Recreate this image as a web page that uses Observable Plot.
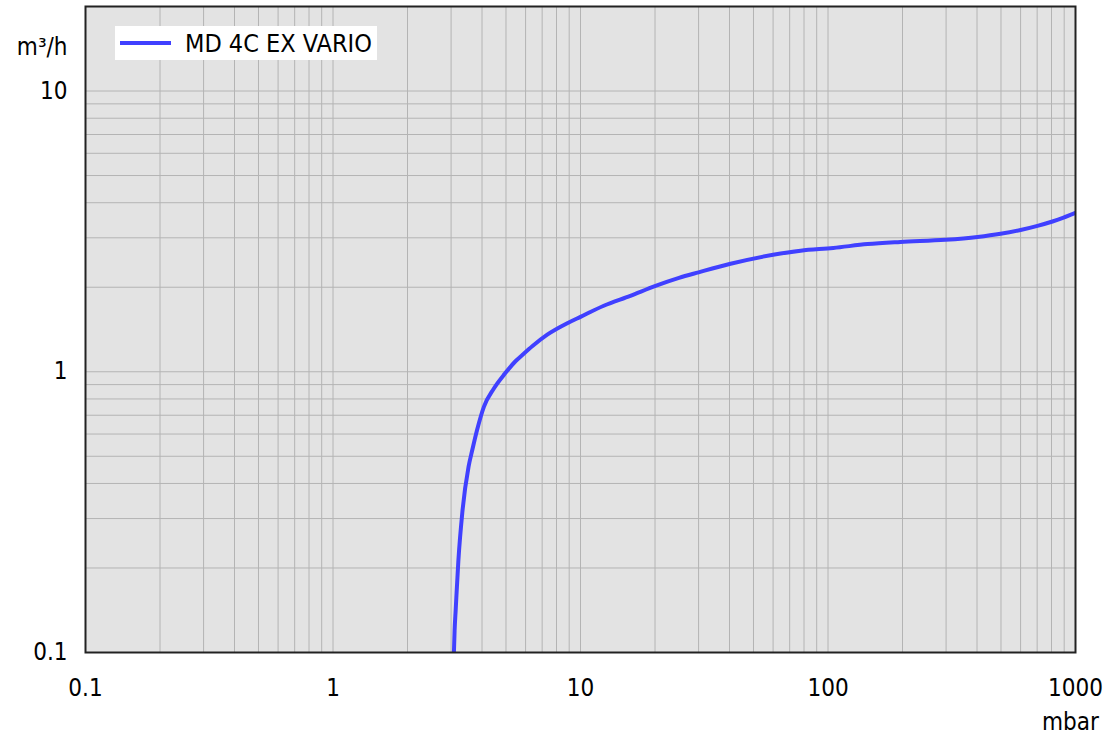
<!DOCTYPE html>
<html>
<head>
<meta charset="utf-8">
<script src="https://cdn.jsdelivr.net/npm/d3@7"></script>
<script src="https://cdn.jsdelivr.net/npm/@observablehq/plot@0.6"></script>
<style>
  body { margin: 0; background: #fff; }
  svg { display: block; }
</style>
</head>
<body>
<div id="chart"></div>
<script>
// Pressure (mbar) and pumping speed (m³/h)
const pressure = [3.08, 3.10, 3.13, 3.21, 3.33, 3.53, 3.65, 3.82, 4.07, 4.46, 4.95, 5.46, 5.90, 6.40, 7.34, 8.97, 10, 12.42, 15.9, 20.1, 25, 30, 40, 60, 77.5, 105, 144.5, 196, 298, 402, 498, 600, 702, 807, 895, 1000];
const speed    = [0.1, 0.12, 0.141, 0.212, 0.315, 0.459, 0.524, 0.62, 0.75, 0.87, 0.985, 1.09, 1.16, 1.235, 1.355, 1.498, 1.569, 1.718, 1.864, 2.023, 2.16, 2.26, 2.42, 2.61, 2.70, 2.76, 2.85, 2.90, 2.95, 3.02, 3.10, 3.20, 3.31, 3.43, 3.54, 3.68];

const seriesName = "MD 4C EX VARIO";
const xTicks = [0.1, 1, 10, 100, 1000];
const yTicks = [0.1, 1, 10];
const xGrid = [0.2,0.3,0.4,0.5,0.6,0.7,0.8,0.9,1,2,3,4,5,6,7,8,9,10,20,30,40,50,60,70,80,90,100,200,300,400,500,600,700,800,900];
const yGrid = [0.2,0.3,0.4,0.5,0.6,0.7,0.8,0.9,1,2,3,4,5,6,7,8,9,10];
const xUnit = "mbar";
const yUnit = "m³/h";

const data = pressure.map((p, i) => ({p, s: speed[i]}));

const font = "'DejaVu Sans Condensed', 'DejaVu Sans', sans-serif";
const gridColor = "#b4b4b4";
const lineColor = "#4040ff";

const chart = Plot.plot({
  width: 1109,
  height: 737,
  marginLeft: 85,
  marginRight: 34,
  marginTop: 6,
  marginBottom: 85,
  style: {fontFamily: font, fontSize: "24px", color: "#000", background: "#fff", overflow: "visible"},
  x: {type: "log", domain: [0.1, 1000]},
  y: {type: "log", domain: [0.1, 20]},
  marks: [
    Plot.frame({fill: "#e3e3e3", stroke: null}),
    Plot.gridX(xGrid, {stroke: gridColor, strokeOpacity: 1, strokeWidth: 1}),
    Plot.gridY(yGrid, {stroke: gridColor, strokeOpacity: 1, strokeWidth: 1}),
    Plot.axisX(xTicks, {tickSize: 0, tickPadding: 26, tickFormat: d => String(d), fontSize: 24, label: null}),
    Plot.axisY(yTicks, {tickSize: 0, tickPadding: 18, tickFormat: d => String(d), fontSize: 24, label: null}),
    Plot.line(data, {x: "p", y: "s", stroke: lineColor, strokeWidth: 4, curve: "monotone-x", clip: true}),
    Plot.frame({stroke: "#222", strokeWidth: 2}),
    Plot.text([xUnit], {frameAnchor: "bottom-right", dx: -5, dy: 70, textAnchor: "middle", lineAnchor: "middle", fontSize: 24, fill: "#000"}),
    Plot.text([yUnit], {frameAnchor: "top-left", dx: -18, dy: 41, textAnchor: "end", lineAnchor: "middle", fontSize: 24, fill: "#000"})
  ]
});

// Legend box
const svg = d3.select(chart);
const lg = svg.append("g").attr("font-family", font);
lg.append("rect").attr("x", 115).attr("y", 26).attr("width", 262).attr("height", 34).attr("fill", "#fff");
lg.append("line").attr("x1", 120).attr("x2", 171).attr("y1", 43).attr("y2", 43)
  .attr("stroke", lineColor).attr("stroke-width", 4);
lg.append("text").attr("x", 185).attr("y", 43).attr("dy", "0.36em")
  .attr("text-anchor", "start")
  .attr("font-size", 25).attr("fill", "#000").text(seriesName);

document.getElementById("chart").appendChild(chart);
</script>
</body>
</html>
